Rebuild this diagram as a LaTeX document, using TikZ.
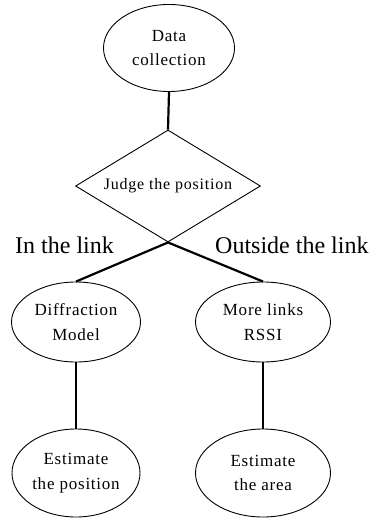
\documentclass[tikz,border=0pt]{standalone}
\usepackage{fontspec}
\setmainfont{Liberation Serif}
\usetikzlibrary{shapes.geometric}
\begin{document}
\begin{tikzpicture}[x=1pt,y=-1pt,
  oval/.style={ellipse,draw,line width=0.9pt,inner sep=0pt,align=center,
    font=\fontsize{17}{24.5}\selectfont\addfontfeature{LetterSpace=4.5}},
  decision/.style={diamond,draw,line width=0.9pt,inner sep=0pt,shape aspect=1.65,
    minimum width=185pt,minimum height=112pt,
    font=\fontsize{16}{20}\selectfont\addfontfeature{LetterSpace=5}},
  link/.style={line width=2.2pt},
  branchlabel/.style={anchor=base west,inner sep=0pt,font=\fontsize{24}{26}\selectfont}]
\useasboundingbox (0,0) rectangle (372,518);

\node[oval,minimum width=131pt,minimum height=87pt] (collect) at (169,48) {Data\\collection};
\node[decision] (judge) at (168,186) {Judge the position};
\node[oval,minimum width=129pt,minimum height=80pt] (diffr) at (76,322) {Diffraction\\Model};
\node[oval,minimum width=135pt,minimum height=80pt] (rssi) at (263,322) {More links\\RSSI};
\node[oval,minimum width=128pt,minimum height=88pt] (estpos) at (76,473) {Estimate\\the position};
\node[oval,minimum width=135pt,minimum height=88pt] (estarea) at (263,473) {Estimate\\the area};

\node[branchlabel] (inlink) at (15,253) {In the link};
\node[branchlabel] (outlink) at (215,253) {Outside the link};

\draw[link] (collect.south) -- (judge.north);
\draw[link] (judge.south) -- (diffr.north);
\draw[link] (judge.south) -- (rssi.north);
\draw[link] (diffr.south) -- (estpos.north);
\draw[link] (rssi.south) -- (estarea.north);
\end{tikzpicture}
\end{document}
